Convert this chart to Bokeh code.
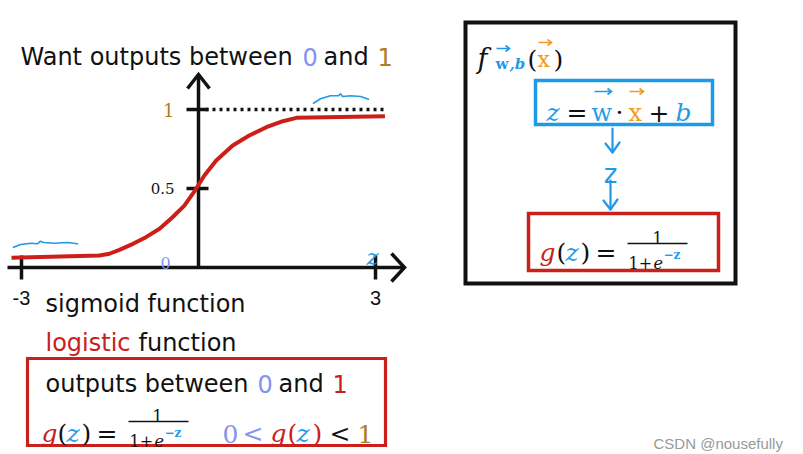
from bokeh.plotting import figure
from bokeh.models import Range1d, Label
from bokeh.embed import file_html
from bokeh.resources import INLINE

# ---------------- data ----------------
z_curve = [-3.17, -1.68, -1.51, -1.34, -1.11, -0.89, -0.66, -0.44, -0.24, -0.06,
           0.10, 0.30, 0.58, 0.86, 1.15, 1.43, 1.66, 3.16]
g_curve = [0.061, 0.076, 0.087, 0.112, 0.150, 0.192, 0.245, 0.318, 0.392, 0.487,
           0.582, 0.677, 0.772, 0.835, 0.888, 0.926, 0.947, 0.958]
x_ticks = [-3, 3]
x_tick_labels = ["-3", "3"]
y_ticks = [0.5, 1]
y_tick_labels = ["0.5", "1"]
upper_limit = 1.0

# ---------------- styling ----------------
BLACK = "#111111"
PERI = "#8493f0"
BROWN = "#b07a22"
RED = "#c9201b"
BLUE = "#1e9be8"
ORANGE = "#f39a1c"
SANS = "DejaVu Sans"
SERIF = "DejaVu Serif"

# pixel (reference image) -> data mapping
X0, SX = 198.0, 59.0
Y0, SY = 267.0, 158.0


def zx(X):
    return (X - X0) / SX


def gy(Y):
    return (Y0 - Y) / SY


W, H = 803, 454
p = figure(width=W, height=H, output_backend="svg", toolbar_location=None,
           x_range=Range1d(zx(0), zx(W)), y_range=Range1d(gy(H), gy(0)),
           x_axis_type=None, y_axis_type=None, min_border=0)
p.outline_line_color = None
p.background_fill_color = "white"
p.border_fill_color = "white"


def T(X, Y, s, color=BLACK, size=20, font=SANS, style="normal", align="left",
      baseline="alphabetic"):
    p.add_layout(Label(x=zx(X), y=gy(Y), text=s, text_color=color,
                       text_font_size=f"{size}px", text_font=font,
                       text_font_style=style, text_align=align,
                       text_baseline=baseline))


def PL(pts, color=BLACK, width=3.0, dash="solid", join="miter", cap="butt"):
    p.line([zx(a) for a, b in pts], [gy(b) for a, b in pts], line_color=color,
           line_width=width, line_dash=dash, line_join=join, line_cap=cap)


def BOX(x1, y1, x2, y2, color, width):
    p.quad(left=zx(x1), right=zx(x2), top=gy(y1), bottom=gy(y2), fill_alpha=0,
           line_color=color, line_width=width, line_join="miter")


def VEC(x1, x2, Y, color):
    PL([(x1, Y), (x2, Y)], color, 1.6)
    PL([(x2 - 4, Y - 3), (x2, Y), (x2 - 4, Y + 3)], color, 1.6)


def FRAC(x1, x2, Y, num_x, color_exp):
    PL([(x1, Y), (x2, Y)], BLACK, 1.4)
    T(num_x, Y - 6, "1", BLACK, 16, SERIF, align="center")
    T(x1 + 1, Y + 19, "1+", BLACK, 16, SERIF)
    T(x1 + 26, Y + 19, "e", BLACK, 16, SERIF, "italic")
    T(x1 + 36, Y + 11, "\u2212z", color_exp, 12, SERIF, "bold")


# ---------------- title ----------------
T(20, 56, "Want outputs between", BLACK, 24)
T(302, 56, "0", PERI, 24)
T(323, 56, "and", BLACK, 24)
T(377, 56, "1", BROWN, 24)

# ---------------- sigmoid chart ----------------
# axes
p.line([zx(7), zx(403)], [0, 0], line_color=BLACK, line_width=3.5)
PL([(391, 253), (404, 267), (391, 281)], BLACK, 3.5)
p.line([0, 0], [0, gy(75)], line_color=BLACK, line_width=3.5)
PL([(187, 88), (198, 74), (209, 88)], BLACK, 3.5)

# ticks
for t in x_ticks:
    p.line([t, t], [gy(Y0 + 12), gy(Y0 - 12)], line_color=BLACK, line_width=3.5)
for t in y_ticks:
    p.line([zx(X0 - 12), zx(X0 + 10)], [t, t], line_color=BLACK, line_width=3.5)

# tick labels
for t, s in zip(x_ticks, x_tick_labels):
    p.add_layout(Label(x=t, y=gy(297), text=s, text_color=BLACK,
                       text_font_size="20px", text_font="Liberation Sans",
                       text_align="center", text_baseline="alphabetic"))
for t, s in zip(y_ticks, y_tick_labels):
    col = BROWN if s == "1" else BLACK
    sz = "18px" if s == "1" else "15px"
    p.add_layout(Label(x=zx(X0 - 24), y=t, text=s, text_color=col,
                       text_font_size=sz, text_font=SERIF,
                       text_align="right", text_baseline="middle"))
T(165, 262, "0", PERI, 16, SERIF, align="center")
T(372, 256, "z", BLUE, 23, SERIF, "italic", align="center")

# upper dotted limit
p.line([zx(205), zx(386)], [upper_limit, upper_limit], line_color=BLACK,
       line_width=3.5, line_dash="3 4")

# sigmoid curve
p.line(z_curve, g_curve, line_color="#cc1f1a", line_width=4, line_join="round")

# hand-drawn blue braces
PL([(13, 246.7), (20, 244), (30, 242.7), (37, 243.3), (40, 240.7), (43, 242),
    (53, 242.7), (67, 242), (77, 243.3)], BLUE, 1.6, join="round", cap="round")
PL([(313, 102.7), (320, 98.3), (330, 95.3), (338, 95.3), (340, 93.3), (342, 96),
    (350, 95.3), (360, 96), (368, 98.7)], BLUE, 1.6, join="round", cap="round")

# ---------------- text below the chart ----------------
T(45, 303, "sigmoid function", BLACK, 24)
T(45, 342, "logistic", RED, 24)
T(138, 342, "function", BLACK, 24)

BOX(27, 358, 385, 445, RED, 3.2)
T(45, 383, "outputs between", BLACK, 24)
T(257, 383, "0", PERI, 24)
T(278, 383, "and", BLACK, 24)
T(332, 383, "1", RED, 24)

MB = 433
T(41, MB, "g", RED, 25, SERIF, "italic")
T(57, MB, "(", BLACK, 25, SERIF)
T(66, MB, "z", BLUE, 25, SERIF, "italic")
T(81, MB, ")", BLACK, 25, SERIF)
T(96, MB, "=", BLACK, 25, SERIF)
FRAC(128, 188, 421, 157, BLUE)

T(222, MB, "0", PERI, 25, SERIF)
T(242, MB, "<", PERI, 25, SERIF)
T(270, MB, "g", RED, 25, SERIF, "italic")
T(287, MB, "(", RED, 25, SERIF)
T(296, MB, "z", BLUE, 25, SERIF, "italic")
T(312, MB, ")", RED, 25, SERIF)
T(329, MB, "<", BLACK, 25, SERIF)
T(357, MB, "1", BROWN, 25, SERIF)

# ---------------- right panel ----------------
BOX(465, 22, 735, 283, BLACK, 4)
T(477, 58, "f", BLACK, 27, SERIF, "italic")
T(495, 63, "w", BLUE, 15, SERIF, "bold")
VEC(496, 509, 48, BLUE)
T(509, 63, ",b", BLUE, 15, SERIF, "bold italic")
T(527, 59, "(", BLACK, 25, SERIF)
T(537, 59, "x", ORANGE, 22, SERIF)
VEC(538, 551, 42, ORANGE)
T(553, 59, ")", BLACK, 25, SERIF)

BOX(535, 80, 712, 124, BLUE, 3.5)
ZB = 112
T(546, ZB, "z", BLUE, 25, SERIF, "italic")
T(566, ZB, "=", BLACK, 25, SERIF)
T(591, ZB, "w", BLUE, 24, SERIF)
VEC(594, 611, 91, BLUE)
T(619, ZB, "\u00b7", BLACK, 25, SERIF, align="center")
T(628, ZB, "x", ORANGE, 24, SERIF)
VEC(629, 643, 91, ORANGE)
T(648, ZB, "+", BLACK, 25, SERIF)
T(675, ZB, "b", BLUE, 25, SERIF, "italic")

PL([(612, 128), (612, 152)], BLUE, 2.2, cap="round")
PL([(605, 143), (612, 152), (619, 142)], BLUE, 2.2, join="round", cap="round")
T(610, 173, "z", BLUE, 26, SANS, align="center")
PL([(610, 180), (610, 209)], BLUE, 2.2, cap="round")
PL([(603, 200), (610, 209), (617, 199)], BLUE, 2.2, join="round", cap="round")

BOX(528, 213, 718, 270, RED, 3.5)
RB = 252
T(539, RB, "g", RED, 25, SERIF, "italic")
T(556, RB, "(", BLACK, 25, SERIF)
T(565, RB, "z", BLUE, 25, SERIF, "italic")
T(580, RB, ")", BLACK, 25, SERIF)
T(595, RB, "=", BLACK, 25, SERIF)
FRAC(627, 687, 243, 657, BLUE)

# ---------------- watermark ----------------
T(653, 443, "CSDN @nousefully", "#999999", 15, "Liberation Sans")

open("out.html", "w").write(file_html(p, INLINE))
